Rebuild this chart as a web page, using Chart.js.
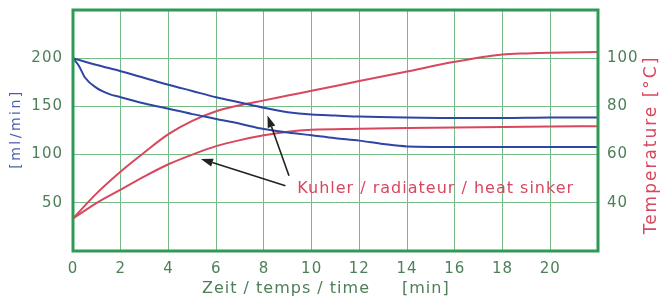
<!DOCTYPE html>
<html>
<head>
<meta charset="utf-8">
<script src="https://cdn.jsdelivr.net/npm/chart.js@4.4.1/dist/chart.umd.min.js"></script>
<style>
  html, body { margin: 0; padding: 0; background: #fff; }
  #wrap { width: 666px; height: 300px; }
</style>
</head>
<body>
<div id="wrap"><canvas id="chart"></canvas></div>
<script>
// ---------- data ----------
// flow [ml/min], left axis
const flowATime  = [0, 1, 2, 3, 4, 5, 6, 7, 8, 9, 10, 11, 12, 14, 16, 18, 20, 22];
const flowAValue = [200, 193, 186.5, 179.5, 172.5, 166, 159.5, 154, 148.5, 144, 141.5, 140.5, 139.5, 138.5, 138, 138, 138.5, 138.5];
const flowBTime  = [0, 0.25, 0.5, 1, 1.5, 2, 3, 4, 5, 6, 7, 8, 9, 10, 11, 12, 13, 14, 16, 18, 20, 22];
const flowBValue = [200, 192, 180, 169, 163, 159.5, 153, 147.5, 142, 137, 132, 126.5, 123, 120, 117, 114.5, 111, 108.5, 108, 108, 108, 108];

// temperature [°C], right axis
const tempATime  = [0, 1, 2, 3, 4, 5, 6, 7, 8, 9, 10, 12, 14, 16, 18, 19, 20, 22];
const tempAValue = [33.5, 44, 53, 61, 68.5, 74, 78, 80.5, 82.5, 84.5, 86.5, 90.5, 94.5, 98.5, 101.5, 102, 102.3, 102.6];
const tempBTime  = [0, 1, 2, 3, 4, 5, 6, 7, 8, 9, 10, 12, 14, 16, 18, 20, 22];
const tempBValue = [33.5, 40, 45.5, 51, 56, 60, 63.5, 66, 68, 69.5, 70.3, 70.7, 71, 71.2, 71.5, 71.7, 71.8];

const xTicksShown  = [0, 2, 4, 6, 8, 10, 12, 14, 16, 18, 20];
const yLeftShown   = [50, 100, 150, 200];
const yRightShown  = [40, 60, 80, 100];

const noteText = 'Kuhler / radiateur / heat sinker';

// ---------- styles ----------
const BLUE = '#2f45a3';
const RED = '#d9475e';
const GRID = '#74bb86';
const FRAME = '#2f9a55';
const TICK = '#4d7f59';
const FONT = "'DejaVu Sans', Verdana, sans-serif";

const toPoints = (xs, ys) => xs.map((x, i) => ({ x: x, y: ys[i] }));

// text in the original is a little tracked
const spacing = {
  id: 'spacing',
  beforeDraw(chart) { chart.ctx.letterSpacing = '1px'; }
};

// keep the plot box where the original has it
const fixY = w => s => { s.width = w; s.paddingTop = 0; s.paddingBottom = 0; };

// frame, axis titles and the note with its two arrows
const extras = {
  id: 'extras',
  afterDatasetsDraw(chart) {
    const ctx = chart.ctx;
    const a = chart.chartArea;
    const xs = chart.scales.x, ys = chart.scales.y;
    ctx.save();

    // green frame round the plot
    ctx.strokeStyle = FRAME;
    ctx.lineWidth = 3;
    ctx.strokeRect(a.left, a.top, a.right - a.left, a.bottom - a.top);

    ctx.textBaseline = 'middle';

    // left axis title
    ctx.font = '14px ' + FONT;
    ctx.letterSpacing = '2.5px';
    ctx.fillStyle = '#4c5fae';
    ctx.textAlign = 'center';
    ctx.save();
    ctx.translate(16, 129);
    ctx.rotate(-Math.PI / 2);
    ctx.fillText('[ml/min]', 0, 0);
    ctx.restore();

    // right axis title, reads bottom to top
    ctx.font = '17px ' + FONT;
    ctx.letterSpacing = '2px';
    ctx.fillStyle = RED;
    ctx.save();
    ctx.translate(652, 145);
    ctx.rotate(-Math.PI / 2);
    ctx.fillText('Temperature [\u00B0C]', 0, 0);
    ctx.restore();

    // x axis title
    ctx.font = '16px ' + FONT;
    ctx.letterSpacing = '1px';
    ctx.fillStyle = TICK;
    ctx.textAlign = 'left';
    ctx.fillText('Zeit / temps / time', 202, 289);
    ctx.fillText('[min]', 402, 289);

    // note text
    ctx.font = '16px ' + FONT;
    ctx.letterSpacing = '1px';
    ctx.fillStyle = RED;
    ctx.fillText(noteText, xs.getPixelForValue(9.4), ys.getPixelForValue(64.6));
    ctx.letterSpacing = '0px';

    // arrows (tail -> tip)
    const arrows = [
      [9.05, 78, 8.15, 140.6],
      [8.9, 67.7, 5.36, 95.5]
    ];
    ctx.strokeStyle = '#222';
    ctx.fillStyle = '#222';
    ctx.lineWidth = 1.6;
    arrows.forEach(([t0, v0, t1, v1]) => {
      const x0 = xs.getPixelForValue(t0), y0 = ys.getPixelForValue(v0);
      const x1 = xs.getPixelForValue(t1), y1 = ys.getPixelForValue(v1);
      const ang = Math.atan2(y1 - y0, x1 - x0);
      const hl = 12, hw = 4;
      const bx = x1 - hl * Math.cos(ang), by = y1 - hl * Math.sin(ang);
      ctx.beginPath();
      ctx.moveTo(x0, y0);
      ctx.lineTo(bx, by);
      ctx.stroke();
      ctx.beginPath();
      ctx.moveTo(x1, y1);
      ctx.lineTo(bx + hw * Math.sin(ang), by - hw * Math.cos(ang));
      ctx.lineTo(bx - hw * Math.sin(ang), by + hw * Math.cos(ang));
      ctx.closePath();
      ctx.fill();
    });

    ctx.restore();
  }
};

const lineSet = (xs, ys, color, axis) => ({
  data: toPoints(xs, ys),
  yAxisID: axis,
  borderColor: color,
  borderWidth: 2,
  pointRadius: 0,
  fill: false,
  cubicInterpolationMode: 'monotone'
});

new Chart(document.getElementById('chart'), {
  type: 'line',
  data: {
    datasets: [
      lineSet(flowATime, flowAValue, BLUE, 'y'),
      lineSet(flowBTime, flowBValue, BLUE, 'y'),
      lineSet(tempATime, tempAValue, RED, 'y1'),
      lineSet(tempBTime, tempBValue, RED, 'y1')
    ]
  },
  options: {
    responsive: true,
    maintainAspectRatio: false,
    animation: false,
    layout: { padding: { top: 10, left: 0, right: 0, bottom: 0 } },
    plugins: { legend: { display: false }, tooltip: { enabled: false } },
    scales: {
      x: {
        type: 'linear',
        min: 0, max: 22,
        afterFit: s => { s.height = 49; s.paddingLeft = 0; s.paddingRight = 0; },
        ticks: {
          stepSize: 2,
          padding: 9,
          color: TICK,
          font: { family: FONT, size: 15 },
          callback: v => xTicksShown.includes(v) ? String(v) : ''
        },
        grid: { color: GRID, lineWidth: 1, drawTicks: false },
        border: { display: false }
      },
      y: {
        position: 'left',
        min: 0, max: 250,
        afterFit: fixY(73),
        ticks: {
          stepSize: 50,
          padding: 10,
          color: TICK,
          font: { family: FONT, size: 15 },
          callback: v => yLeftShown.includes(v) ? String(v) : ''
        },
        grid: { color: GRID, lineWidth: 1, drawTicks: false },
        border: { display: false }
      },
      y1: {
        position: 'right',
        min: 20, max: 120,
        afterFit: fixY(68),
        ticks: {
          stepSize: 20,
          padding: 9,
          color: TICK,
          font: { family: FONT, size: 15 },
          callback: v => yRightShown.includes(v) ? String(v) : ''
        },
        grid: { drawOnChartArea: false, drawTicks: false },
        border: { display: false }
      }
    }
  },
  plugins: [spacing, extras]
});
</script>
</body>
</html>
